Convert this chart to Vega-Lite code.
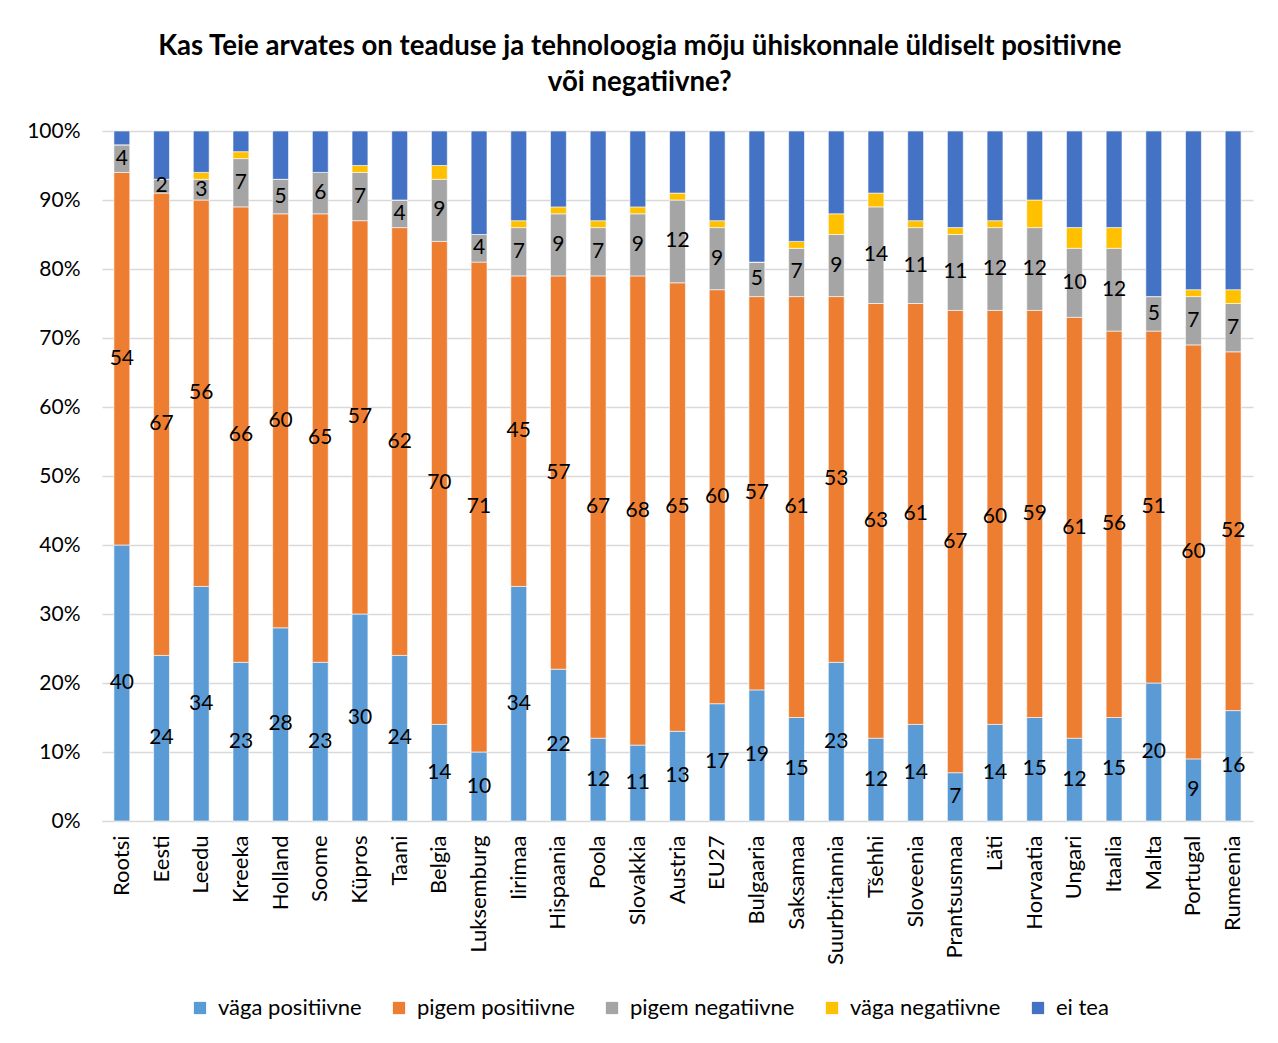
{
  "$schema": "https://vega.github.io/schema/vega-lite/v6.json",
  "width": 1151,
  "height": 690,
  "autosize": {"type": "none"},
  "padding": {"left": 102, "top": 131, "right": 25, "bottom": 222},
  "background": "white",
  "config": {
    "font": "Lato",
    "view": {"stroke": null},
    "axis": {"labelFont": "Lato", "labelColor": "#000000"}
  },
  "title": {
    "text": ["Kas Teie arvates on teaduse ja tehnoloogia mõju ühiskonnale üldiselt positiivne", "või negatiivne?"],
    "font": "Lato",
    "fontSize": 27.6,
    "fontWeight": "bold",
    "color": "#000000",
    "anchor": "middle",
    "frame": "bounds",
    "lineHeight": 36,
    "offset": 23
  },
  "data": {
    "values": [
      {"riik": "Rootsi", "väga positiivne": 40, "pigem positiivne": 54, "pigem negatiivne": 4, "väga negatiivne": 0, "ei tea": 2},
      {"riik": "Eesti", "väga positiivne": 24, "pigem positiivne": 67, "pigem negatiivne": 2, "väga negatiivne": 0, "ei tea": 7},
      {"riik": "Leedu", "väga positiivne": 34, "pigem positiivne": 56, "pigem negatiivne": 3, "väga negatiivne": 1, "ei tea": 6},
      {"riik": "Kreeka", "väga positiivne": 23, "pigem positiivne": 66, "pigem negatiivne": 7, "väga negatiivne": 1, "ei tea": 3},
      {"riik": "Holland", "väga positiivne": 28, "pigem positiivne": 60, "pigem negatiivne": 5, "väga negatiivne": 0, "ei tea": 7},
      {"riik": "Soome", "väga positiivne": 23, "pigem positiivne": 65, "pigem negatiivne": 6, "väga negatiivne": 0, "ei tea": 6},
      {"riik": "Küpros", "väga positiivne": 30, "pigem positiivne": 57, "pigem negatiivne": 7, "väga negatiivne": 1, "ei tea": 5},
      {"riik": "Taani", "väga positiivne": 24, "pigem positiivne": 62, "pigem negatiivne": 4, "väga negatiivne": 0, "ei tea": 10},
      {"riik": "Belgia", "väga positiivne": 14, "pigem positiivne": 70, "pigem negatiivne": 9, "väga negatiivne": 2, "ei tea": 5},
      {"riik": "Luksemburg", "väga positiivne": 10, "pigem positiivne": 71, "pigem negatiivne": 4, "väga negatiivne": 0, "ei tea": 15},
      {"riik": "Iirimaa", "väga positiivne": 34, "pigem positiivne": 45, "pigem negatiivne": 7, "väga negatiivne": 1, "ei tea": 13},
      {"riik": "Hispaania", "väga positiivne": 22, "pigem positiivne": 57, "pigem negatiivne": 9, "väga negatiivne": 1, "ei tea": 11},
      {"riik": "Poola", "väga positiivne": 12, "pigem positiivne": 67, "pigem negatiivne": 7, "väga negatiivne": 1, "ei tea": 13},
      {"riik": "Slovakkia", "väga positiivne": 11, "pigem positiivne": 68, "pigem negatiivne": 9, "väga negatiivne": 1, "ei tea": 11},
      {"riik": "Austria", "väga positiivne": 13, "pigem positiivne": 65, "pigem negatiivne": 12, "väga negatiivne": 1, "ei tea": 9},
      {"riik": "EU27", "väga positiivne": 17, "pigem positiivne": 60, "pigem negatiivne": 9, "väga negatiivne": 1, "ei tea": 13},
      {"riik": "Bulgaaria", "väga positiivne": 19, "pigem positiivne": 57, "pigem negatiivne": 5, "väga negatiivne": 0, "ei tea": 19},
      {"riik": "Saksamaa", "väga positiivne": 15, "pigem positiivne": 61, "pigem negatiivne": 7, "väga negatiivne": 1, "ei tea": 16},
      {"riik": "Suurbritannia", "väga positiivne": 23, "pigem positiivne": 53, "pigem negatiivne": 9, "väga negatiivne": 3, "ei tea": 12},
      {"riik": "Tšehhi", "väga positiivne": 12, "pigem positiivne": 63, "pigem negatiivne": 14, "väga negatiivne": 2, "ei tea": 9},
      {"riik": "Sloveenia", "väga positiivne": 14, "pigem positiivne": 61, "pigem negatiivne": 11, "väga negatiivne": 1, "ei tea": 13},
      {"riik": "Prantsusmaa", "väga positiivne": 7, "pigem positiivne": 67, "pigem negatiivne": 11, "väga negatiivne": 1, "ei tea": 14},
      {"riik": "Läti", "väga positiivne": 14, "pigem positiivne": 60, "pigem negatiivne": 12, "väga negatiivne": 1, "ei tea": 13},
      {"riik": "Horvaatia", "väga positiivne": 15, "pigem positiivne": 59, "pigem negatiivne": 12, "väga negatiivne": 4, "ei tea": 10},
      {"riik": "Ungari", "väga positiivne": 12, "pigem positiivne": 61, "pigem negatiivne": 10, "väga negatiivne": 3, "ei tea": 14},
      {"riik": "Itaalia", "väga positiivne": 15, "pigem positiivne": 56, "pigem negatiivne": 12, "väga negatiivne": 3, "ei tea": 14},
      {"riik": "Malta", "väga positiivne": 20, "pigem positiivne": 51, "pigem negatiivne": 5, "väga negatiivne": 0, "ei tea": 24},
      {"riik": "Portugal", "väga positiivne": 9, "pigem positiivne": 60, "pigem negatiivne": 7, "väga negatiivne": 1, "ei tea": 23},
      {"riik": "Rumeenia", "väga positiivne": 16, "pigem positiivne": 52, "pigem negatiivne": 7, "väga negatiivne": 2, "ei tea": 23}
    ]
  },
  "transform": [
    {"fold": ["väga positiivne", "pigem positiivne", "pigem negatiivne", "väga negatiivne", "ei tea"], "as": ["vastus", "protsent"]},
    {"stack": "protsent", "groupby": ["riik"], "as": ["y0", "y1"]}
  ],
  "encoding": {
    "x": {
      "field": "riik",
      "type": "nominal",
      "sort": null,
      "title": null,
      "scale": {"paddingInner": 0.6, "paddingOuter": 0.3},
      "axis": {
        "labelAngle": -90,
        "labelFontSize": 22,
        "labelPadding": 14,
        "labelLimit": 300,
        "ticks": false,
        "domainColor": "#D9D9D9",
        "domainWidth": 1
      }
    }
  },
  "layer": [
    {
      "mark": {"type": "bar", "stroke": "#FFFFFF", "strokeWidth": 0.6},
      "encoding": {
        "y": {
          "field": "y0",
          "type": "quantitative",
          "scale": {"domain": [0, 100], "nice": false},
          "title": null,
          "axis": {
            "values": [0, 10, 20, 30, 40, 50, 60, 70, 80, 90, 100],
            "labelExpr": "datum.value + '%'",
            "labelFontSize": 21,
            "labelPadding": 22,
            "ticks": false,
            "domain": false,
            "gridColor": "#D9D9D9",
            "gridWidth": 1.3
          }
        },
        "y2": {"field": "y1"},
        "color": {
          "field": "vastus",
          "type": "nominal",
          "scale": {
            "domain": ["väga positiivne", "pigem positiivne", "pigem negatiivne", "väga negatiivne", "ei tea"],
            "range": ["#5B9BD5", "#ED7D31", "#A5A5A5", "#FFC000", "#4472C4"]
          },
          "legend": {
            "title": null,
            "orient": "none",
            "direction": "horizontal",
            "legendX": 87,
            "legendY": 866,
            "symbolType": "square",
            "symbolSize": 150,
            "symbolStrokeWidth": 0,
            "labelFontSize": 22,
            "labelFont": "Lato",
            "labelColor": "#000000",
            "labelLimit": 400,
            "labelOffset": 7,
            "columnPadding": 26
          }
        }
      }
    },
    {
      "transform": [
        {"filter": {"field": "vastus", "oneOf": ["väga positiivne", "pigem positiivne", "pigem negatiivne"]}},
        {"fold": ["y0", "y1"], "as": ["serv", "asukoht"]},
        {"aggregate": [{"op": "mean", "field": "asukoht", "as": "kesk"}], "groupby": ["riik", "vastus", "protsent"]}
      ],
      "mark": {"type": "text", "fontSize": 21, "font": "Lato", "color": "#000000"},
      "encoding": {
        "y": {"field": "kesk", "type": "quantitative"},
        "text": {"field": "protsent", "type": "quantitative"}
      }
    }
  ]
}
